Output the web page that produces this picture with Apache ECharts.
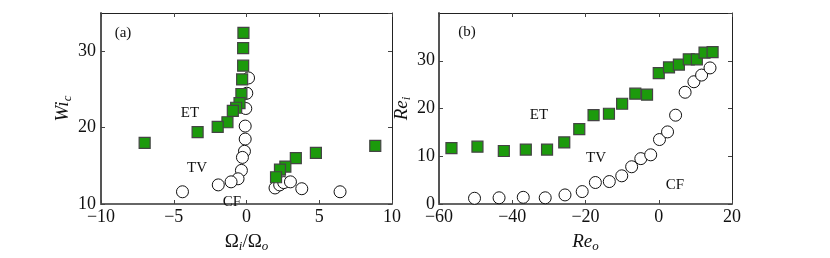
<!DOCTYPE html>
<html><head><meta charset="utf-8">
<script src="https://cdn.jsdelivr.net/npm/echarts@6/dist/echarts.min.js"></script>
<style>html,body{margin:0;padding:0;background:#fff}#c{width:830px;height:258px}</style>
</head><body><div id="c"></div>
<script>
// Panel (a): Wi_c vs Omega_i/Omega_o
const aTicksX = [-10, -5, 0, 5, 10];
const aTicksY = [10, 20, 30];
const aET_x = [-0.21, -0.23, -0.23, -0.30, -0.35, -0.48, -0.71, -0.94, -1.31, -1.98, -3.36, -7.0, 8.85, 4.77, 3.39, 2.67, 2.30, 2.03];
const aET_y = [32.4, 30.4, 28.1, 26.3, 24.4, 23.2, 22.6, 22.2, 20.7, 20.1, 19.4, 18.0, 17.6, 16.7, 16.0, 14.9, 14.5, 13.5];
const aTV_x = [0.14, 0.02, -0.05, -0.09, -0.09, -0.14, -0.28, -0.35, -0.58, -1.06, -1.94, -4.4, 1.96, 2.28, 2.56, 3.02, 3.80, 6.43];
const aTV_y = [26.5, 24.5, 22.5, 20.2, 18.5, 16.9, 16.1, 14.4, 13.3, 12.9, 12.5, 11.6, 12.1, 12.5, 12.8, 12.9, 12.0, 11.6];
// Panel (b): Re_i vs Re_o
const bTicksX = [-60, -40, -20, 0, 20];
const bTicksY = [0, 10, 20, 30];
const bET_x = [-56.6, -49.5, -42.3, -36.3, -30.5, -25.8, -21.7, -17.8, -13.6, -10.0, -6.4, -3.2, 0.0, 2.8, 5.5, 8.2, 10.4, 12.5, 14.7];
const bET_y = [11.7, 12.0, 11.1, 11.4, 11.4, 12.9, 15.7, 18.6, 18.9, 21.0, 23.1, 22.9, 27.4, 28.6, 29.2, 30.3, 30.3, 31.7, 31.8];
const bTV_x = [-50.3, -43.6, -37.0, -31.0, -25.6, -20.9, -17.3, -13.5, -10.1, -7.4, -4.9, -2.2, 0.2, 2.4, 4.6, 7.2, 9.6, 11.7, 14.0];
const bTV_y = [1.2, 1.3, 1.4, 1.3, 1.9, 2.6, 4.5, 4.7, 5.9, 7.8, 9.5, 10.3, 13.5, 15.1, 18.6, 23.4, 25.6, 27.0, 28.5];

const FF = '"Liberation Serif", "DejaVu Serif", serif';
const zip = (xs, ys) => xs.map((x, i) => [x, ys[i]]);
const fmt = v => String(v).replace('-', '\u2212');

function mainX(idx, ticks, name, gap, rich) {
  return {
    type: 'value', gridIndex: idx, min: ticks[0], max: ticks[ticks.length - 1],
    interval: ticks[1] - ticks[0],
    name: name, nameLocation: 'middle', nameGap: gap,
    nameTextStyle: { rich: rich },
    axisLine: { show: true, onZero: false, lineStyle: { color: '#666', width: 2 } },
    axisTick: { show: true, inside: true, length: 4, lineStyle: { color: '#444' } },
    axisLabel: { fontFamily: FF, fontSize: 18, color: '#111', margin: 4, formatter: fmt },
    splitLine: { show: false }
  };
}
function mainY(idx, min, max, interval, name, gap, margin, rich) {
  return {
    type: 'value', gridIndex: idx, min: min, max: max, interval: interval,
    name: name, nameLocation: 'middle', nameGap: gap, nameRotate: 90,
    nameTextStyle: { rich: rich },
    axisLine: { show: true, onZero: false, lineStyle: { color: '#555', width: 2 } },
    axisTick: { show: true, inside: true, length: 4, lineStyle: { color: '#444' } },
    axisLabel: { fontFamily: FF, fontSize: 18, color: '#111', margin: margin,
      formatter: fmt, showMaxLabel: false },
    splitLine: { show: false }
  };
}
function mirrorX(idx, ticks) {
  return {
    type: 'value', gridIndex: idx, position: 'top', min: ticks[0], max: ticks[ticks.length - 1],
    interval: ticks[1] - ticks[0],
    axisLine: { show: true, onZero: false, lineStyle: { color: '#222', width: 1 } },
    axisTick: { show: true, inside: true, length: 4, lineStyle: { color: '#444' } },
    axisLabel: { show: false }, splitLine: { show: false }
  };
}
function mirrorY(idx, min, max, interval) {
  return {
    type: 'value', gridIndex: idx, position: 'right', min: min, max: max, interval: interval,
    axisLine: { show: true, onZero: false, lineStyle: { color: '#222', width: 1 } },
    axisTick: { show: true, inside: true, length: 4, lineStyle: { color: '#444' } },
    axisLabel: { show: false }, splitLine: { show: false }
  };
}

const richBase = {
  it: { fontFamily: FF, fontStyle: 'italic', fontSize: 19, color: '#111' },
  n: { fontFamily: FF, fontSize: 19, color: '#111' },
  sub: { fontFamily: FF, fontStyle: 'italic', fontSize: 13, color: '#111', padding: [9, 0, 0, 0] }
};

const circleStyle = { color: '#fff', borderColor: '#111', borderWidth: 1, opacity: 1 };
const squareStyle = { color: '#1c9a0c', borderColor: '#444', borderWidth: 1.2, opacity: 1 };

const chart = echarts.init(document.getElementById('c'), null, { renderer: 'canvas' });
chart.setOption({
  animation: false,
  backgroundColor: '#fff',
  grid: [
    { left: 101, right: 438, top: 13, bottom: 47 },
    { left: 439, right: 98, top: 13, bottom: 47 }
  ],
  xAxis: [
    mainX(0, aTicksX, '{n|Ω}{sub|i}{n|/Ω}{sub|o}', 27, richBase),
    mainX(1, bTicksX, '{it|Re}{sub|o}', 27, richBase),
    mirrorX(0, aTicksX),
    mirrorX(1, bTicksX)
  ],
  yAxis: [
    mainY(0, aTicksY[0], 35, 10, '{it|Wi}{sub|c}', 27, 5, richBase),
    mainY(1, bTicksY[0], 40, 10, '{it|Re}{sub|i}', 24, 4, richBase),
    mirrorY(0, aTicksY[0], 35, 10),
    mirrorY(1, bTicksY[0], 40, 10)
  ],
  series: [
    { type: 'scatter', xAxisIndex: 0, yAxisIndex: 0, symbol: 'circle', symbolSize: 12,
      itemStyle: circleStyle, data: zip(aTV_x, aTV_y), z: 2 },
    { type: 'scatter', xAxisIndex: 0, yAxisIndex: 0, symbol: 'rect', symbolSize: 11,
      itemStyle: squareStyle, data: zip(aET_x, aET_y), z: 3 },
    { type: 'scatter', xAxisIndex: 1, yAxisIndex: 1, symbol: 'circle', symbolSize: 12,
      itemStyle: circleStyle, data: zip(bTV_x, bTV_y), z: 2 },
    { type: 'scatter', xAxisIndex: 1, yAxisIndex: 1, symbol: 'rect', symbolSize: 11,
      itemStyle: squareStyle, data: zip(bET_x, bET_y), z: 3 }
  ],
  graphic: [
    ['(a)', 123, 33, 15], ['ET', 190, 113, 15], ['TV', 197, 168, 15], ['CF', 232, 202, 15],
    ['(b)', 467, 32, 15], ['ET', 539, 115, 15], ['TV', 596, 158, 15], ['CF', 675, 185, 15]
  ].map(([t, x, y, fs]) => ({
    type: 'text', x: x, y: y, z: 10,
    style: { text: t, fontFamily: FF, fontSize: fs, fill: '#111', align: 'center', verticalAlign: 'middle' }
  }))
});
</script>
</body></html>
